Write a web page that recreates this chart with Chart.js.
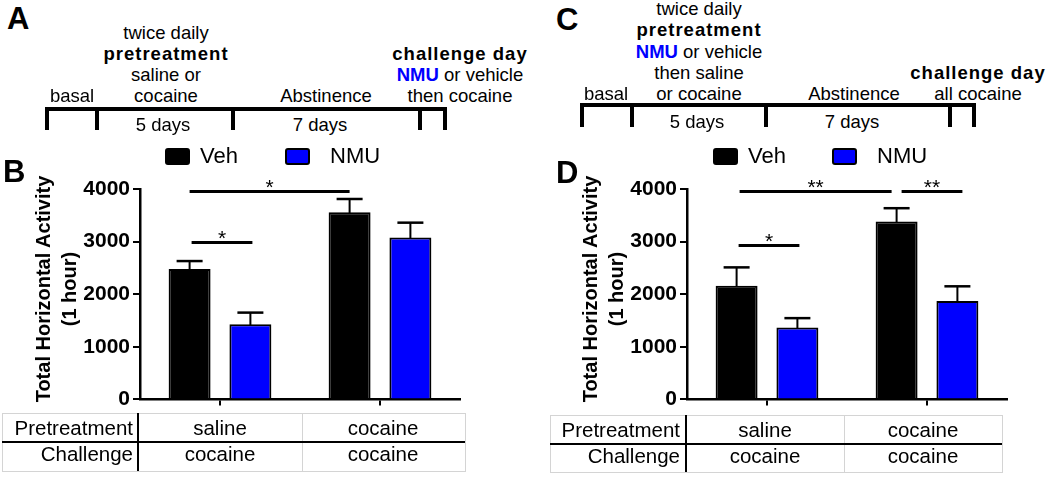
<!DOCTYPE html>
<html>
<head>
<meta charset="utf-8">
<script src="https://cdn.jsdelivr.net/npm/chart.js@4.4.1/dist/chart.umd.min.js"></script>
<style>
body { margin: 0; background: #fff; }
#fig { position: relative; width: 1050px; height: 477px; overflow: hidden; background: #fff;
       font-family: "Liberation Sans", Arial, sans-serif; color: #000; }
.t { position: absolute; white-space: nowrap; }
.ln { position: absolute; background: #000; }
.cl { position: absolute; background: #d4d4d4; }
canvas { position: absolute; }
.sw { position: absolute; width: 21px; height: 13px; border: 2px solid #000; border-radius: 3px; }
.tit { position: absolute; width: 260px; height: 52px; line-height: 26px; font-size: 20px; font-weight: bold;
       text-align: center; transform: rotate(-90deg); white-space: nowrap; }
</style>
</head>
<body>
<div id="fig">
  <canvas id="grafico-b" width="470" height="275" style="left:0px;top:140px"></canvas>
  <canvas id="grafico-d" width="470" height="275" style="left:547px;top:140px"></canvas>
</div>
<script>
// ── Dados ──
const categorias = ["saline", "cocaine"];
const series     = ["Veh", "NMU"];
const yTicks     = [0, 1000, 2000, 3000, 4000];

// painel B
const vehB    = [2480, 3560];
const vehErrB = [150, 250];
const nmuB    = [1430, 3080];
const nmuErrB = [220, 280];

// painel D
const vehD    = [2160, 3380];
const vehErrD = [350, 255];
const nmuD    = [1365, 1870];
const nmuErrD = [180, 280];

// significância: de/ate = [categoria, série]
const sigB = [
    { de: [0, 0], ate: [1, 0], y: 3960, txt: "*" },
    { de: [0, 0], ate: [0, 1], y: 3000, txt: "*", ajuste: [2, 2] },
];
const sigD = [
    { de: [0, 0], ate: [1, 0], y: 3960, txt: "**", ajuste: [3, -5] },
    { de: [1, 0], ate: [1, 1], y: 3960, txt: "**", ajuste: [5, 5] },
    { de: [0, 0], ate: [0, 1], y: 2940, txt: "*", ajuste: [2, 2] },
];

// tabela
const pretratamento = ["saline", "cocaine"];
const desafio       = ["cocaine", "cocaine"];

const AZUL = "#0000FF";
const fig = document.getElementById("fig");

// ── Texto posicionado pela linha de base ──
function texto(html, x, base, tam, alinha, extra = {}) {
    const lh = extra.lh || Math.round(tam * 1.2);
    const d = document.createElement("div");
    d.className = "t";
    d.innerHTML = html;
    d.style.fontSize   = tam + "px";
    d.style.lineHeight = lh + "px";
    d.style.top  = (base - (lh - 1.117 * tam) / 2 - 0.905 * tam) + "px";
    d.style.left = x + "px";
    d.style.textAlign = alinha;
    d.style.transform = alinha === "center" ? "translateX(-50%)" : alinha === "right" ? "translateX(-100%)" : "none";
    if (extra.peso) d.style.fontWeight = extra.peso;
    fig.appendChild(d);
}

function caixa(cls, x, y, w, h) {
    const d = document.createElement("div");
    d.className = cls;
    Object.assign(d.style, { left: x + "px", top: y + "px", width: w + "px", height: h + "px" });
    fig.appendChild(d);
}

const neg = s => `<b style="letter-spacing:1px">${s}</b>`;
const nmu = `<b style="color:${AZUL}">NMU</b>`;

// ── Letras dos painéis ──
texto("A", 7, 29, 31, "left", { peso: "bold" });
texto("B", 3, 182, 31, "left", { peso: "bold" });
texto("C", 556, 30, 31, "left", { peso: "bold" });
texto("D", 556, 183, 31, "left", { peso: "bold" });

// ── Linha do tempo A ──
caixa("ln", 45, 107, 402, 4);
[47, 97, 233, 420, 445].forEach(x => caixa("ln", x - 2, 107, 4, 23));
texto("basal", 72, 102, 18.5, "center");
texto(["twice daily", neg("pretreatment"), "saline or", "cocaine"].join("<br>"), 166, 39, 18.5, "center", { lh: 21 });
texto("Abstinence", 326, 102, 18.5, "center");
texto([neg("challenge day"), nmu + " or vehicle", "then cocaine"].join("<br>"), 460, 60, 18.5, "center", { lh: 21 });
texto("5 days", 163, 131, 18.5, "center");
texto("7 days", 320, 131, 18.5, "center");

// ── Linha do tempo C ──
caixa("ln", 580, 103, 396, 4);
[582, 632, 766, 950, 974].forEach(x => caixa("ln", x - 2, 103, 4, 24));
texto("basal", 606, 100, 18.5, "center");
texto(["twice daily", neg("pretreatment"), nmu + " or vehicle", "then saline", "or cocaine"].join("<br>"), 699, 15, 18.5, "center", { lh: 21.3 });
texto("Abstinence", 854, 100, 18.5, "center");
texto([neg("challenge day"), "all cocaine"].join("<br>"), 978, 78.6, 18.5, "center", { lh: 21.3 });
texto("5 days", 697, 128, 18.5, "center");
texto("7 days", 852, 128, 18.5, "center");

// ── Legendas ──
function legenda(x0, x1) {
    const s1 = document.createElement("div"); s1.className = "sw";
    Object.assign(s1.style, { left: x0 + "px", top: "148px", background: "#000" });
    const s2 = document.createElement("div"); s2.className = "sw";
    Object.assign(s2.style, { left: x1 + "px", top: "148px", background: AZUL });
    fig.appendChild(s1); fig.appendChild(s2);
    texto(series[0], x0 + 35, 164, 22, "left");
    texto(series[1], x1 + 45, 164, 22, "left");
}
legenda(165, 285);
legenda(713, 832);

// ── Título do eixo Y ──
function tituloY(eixoX) {
    const d = document.createElement("div");
    d.className = "tit";
    d.innerHTML = "Total Horizontal Activity<br>(1 hour)";
    d.style.left = (eixoX - 84 - 130) + "px";
    d.style.top  = (288.5 - 26) + "px";
    fig.appendChild(d);
}
tituloY(140);
tituloY(687);

// ── Tabelas ──
function tabela(x0, x1, xDiv, xMeio, topo, base, rotX, colX) {
    caixa("cl", x0, topo, x1 - x0, 1);
    caixa("cl", x0, base, x1 - x0, 1);
    caixa("cl", x0, topo, 1, base - topo);
    caixa("cl", xMeio, topo, 1, base - topo);
    caixa("cl", x1, topo, 1, base - topo + 1);
    caixa("ln", x0, (topo + base) / 2 - 1, x1 - x0, 2);
    caixa("ln", xDiv - 1, topo, 2, base - topo);
    const b1 = topo + 22, b2 = topo + 48;
    texto("Pretreatment", rotX, b1, 20.5, "right");
    texto("Challenge", rotX, b2, 20.5, "right");
    pretratamento.forEach((p, i) => texto(p, colX[i], b1, 20.5, "center"));
    desafio.forEach((p, i) => texto(p, colX[i], b2, 20.5, "center"));
}
tabela(2, 465, 138, 302, 413, 471, 133, [220, 383]);
tabela(550, 1002, 686, 844, 415, 472, 680, [765, 923]);

// ── Plugins ──
const pluginErro = {
    id: "barrasErro",
    afterDatasetsDraw(chart) {
        const ctx = chart.ctx, y = chart.scales.y;
        ctx.save();
        ctx.strokeStyle = "#000";
        chart.data.datasets.forEach((ds, i) => {
            chart.getDatasetMeta(i).data.forEach((bar, j) => {
                const topo = y.getPixelForValue(ds.data[j] + ds.erros[j]);
                ctx.lineWidth = 2;
                ctx.beginPath(); ctx.moveTo(bar.x, bar.y + 1); ctx.lineTo(bar.x, topo); ctx.stroke();
                ctx.lineWidth = 2.5;
                ctx.beginPath(); ctx.moveTo(bar.x - 13, topo); ctx.lineTo(bar.x + 13, topo); ctx.stroke();
            });
        });
        ctx.restore();
    }
};

function pluginSig(sigs) {
    return {
        id: "sig",
        afterDraw(chart) {
            const ctx = chart.ctx, y = chart.scales.y;
            ctx.save();
            ctx.strokeStyle = "#000";
            ctx.fillStyle = "#000";
            ctx.lineWidth = 3;
            ctx.font = '21px "Liberation Sans", Arial';
            ctx.textAlign = "center";
            ctx.textBaseline = "alphabetic";
            sigs.forEach(s => {
                const aj = s.ajuste || [0, 0];
                const a = chart.getDatasetMeta(s.de[1]).data[s.de[0]].x + aj[0];
                const b = chart.getDatasetMeta(s.ate[1]).data[s.ate[0]].x + aj[1];
                const py = Math.round(y.getPixelForValue(s.y)) + 0.5;
                ctx.beginPath(); ctx.moveTo(a, py); ctx.lineTo(b, py); ctx.stroke();
                ctx.fillText(s.txt, (a + b) / 2, py + 2);
            });
            ctx.restore();
        }
    };
}

// ── Gráficos ──
function criarGrafico(id, veh, vehErr, nmuV, nmuErr, sigs) {
    return new Chart(document.getElementById(id), {
        type: "bar",
        data: {
            labels: categorias,
            datasets: [
                { label: series[0], data: veh, erros: vehErr, backgroundColor: "#000", borderColor: "#000",
                  borderWidth: 2, categoryPercentage: 0.76, barPercentage: 0.69 },
                { label: series[1], data: nmuV, erros: nmuErr, backgroundColor: AZUL, borderColor: "#000",
                  borderWidth: 2, categoryPercentage: 0.76, barPercentage: 0.69 },
            ]
        },
        options: {
            responsive: false,
            animation: false,
            devicePixelRatio: 1,
            layout: { padding: { top: 49, right: 10, bottom: 0, left: 0 } },
            plugins: { legend: { display: false }, tooltip: { enabled: false } },
            scales: {
                x: {
                    ticks: { display: false },
                    grid: { offset: false, drawOnChartArea: false, drawTicks: true, tickLength: 6, color: "#000", lineWidth: 2 },
                    border: { color: "#000", width: 2.5 },
                    afterFit: s => { s.height = 14; }
                },
                y: {
                    min: yTicks[0],
                    max: yTicks[yTicks.length - 1],
                    afterBuildTicks: s => { s.ticks = yTicks.map(v => ({ value: v })); },
                    ticks: { color: "#000", padding: 3, callback: v => String(v),
                             font: { size: 21, weight: "bold", family: '"Liberation Sans", Arial' } },
                    grid: { drawOnChartArea: false, tickLength: 7, color: "#000", lineWidth: 2 },
                    border: { color: "#000", width: 2.5 },
                    afterFit: s => { s.width = 140; }
                }
            }
        },
        plugins: [pluginErro, pluginSig(sigs)]
    });
}

criarGrafico("grafico-b", vehB, vehErrB, nmuB, nmuErrB, sigB);
criarGrafico("grafico-d", vehD, vehErrD, nmuD, nmuErrD, sigD);
</script>
</body>
</html>
